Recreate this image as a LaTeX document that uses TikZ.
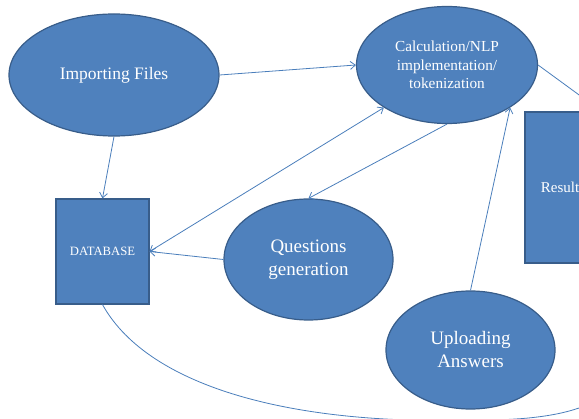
\documentclass[tikz,border=0pt]{standalone}
\usepackage{fontspec}
\setmainfont{Liberation Serif}
\usetikzlibrary{shapes.geometric,arrows.meta}
\definecolor{boxblue}{HTML}{4F81BD}
\definecolor{rimblue}{HTML}{385D8A}
\definecolor{lineblue}{HTML}{4A7EBB}

\begin{document}
\begin{tikzpicture}[x=1pt,y=-1pt,
    >={Straight Barb[length=5pt,width=8pt]},
    bubble/.style={ellipse,draw=rimblue,line width=1.2pt,fill=boxblue,
      text=white,inner sep=0pt,align=center},
    block/.style={rectangle,draw=rimblue,line width=1.2pt,fill=boxblue,
      text=white,inner sep=0pt,align=center},
    link/.style={lineblue,line width=0.8pt}]
  \useasboundingbox (0,0) rectangle (579,419);
  \clip (0,0) rectangle (579,419);

  % the four steps
  \node[bubble,minimum width=210pt,minimum height=122pt,
    font=\fontsize{17.5}{21}\selectfont] (imp) at (114,75) {Importing Files};
  \node[bubble,minimum width=181pt,minimum height=117pt,
    font=\fontsize{15.3}{18.5}\selectfont] (calc) at (447,65)
    {Calculation/NLP\\implementation/\\tokenization};
  \node[bubble,minimum width=169pt,minimum height=121pt,
    font=\fontsize{19}{23}\selectfont] (ques) at (308.5,259.5)
    {Questions\\generation};
  \node[bubble,minimum width=169pt,minimum height=118pt,
    font=\fontsize{19}{23}\selectfont] (upl) at (470.5,350)
    {Uploading\\Answers};

  % boxes
  \node[block,minimum width=93pt,minimum height=105pt,
    font=\fontsize{12.7}{15}\selectfont] (db) at (102.5,251.5) {DATABASE};
  \node[block,minimum width=76pt,minimum height=151pt,
    font=\fontsize{15}{18}\selectfont] (res) at (563,187.5) {Results};

  \draw[link,->] (imp.east) -- (calc.west);
  \draw[link,->] (imp.south) -- (db.north);
  \draw[link,<->] (db.east) -- (calc.214);
  \draw[link,->] (calc.south) -- (ques.north);
  \draw[link,->] (ques.west) -- (db.east);
  \draw[link,->] (upl.north) -- (calc.326);
  \draw[link,->] (calc.east) -- (res.north east);

  \draw[link,->] (db.south) .. controls (150,390) and (300,425) .. (470,420)
    .. controls (620,422) and (660,380) .. (res.south east);
\end{tikzpicture}
\end{document}
